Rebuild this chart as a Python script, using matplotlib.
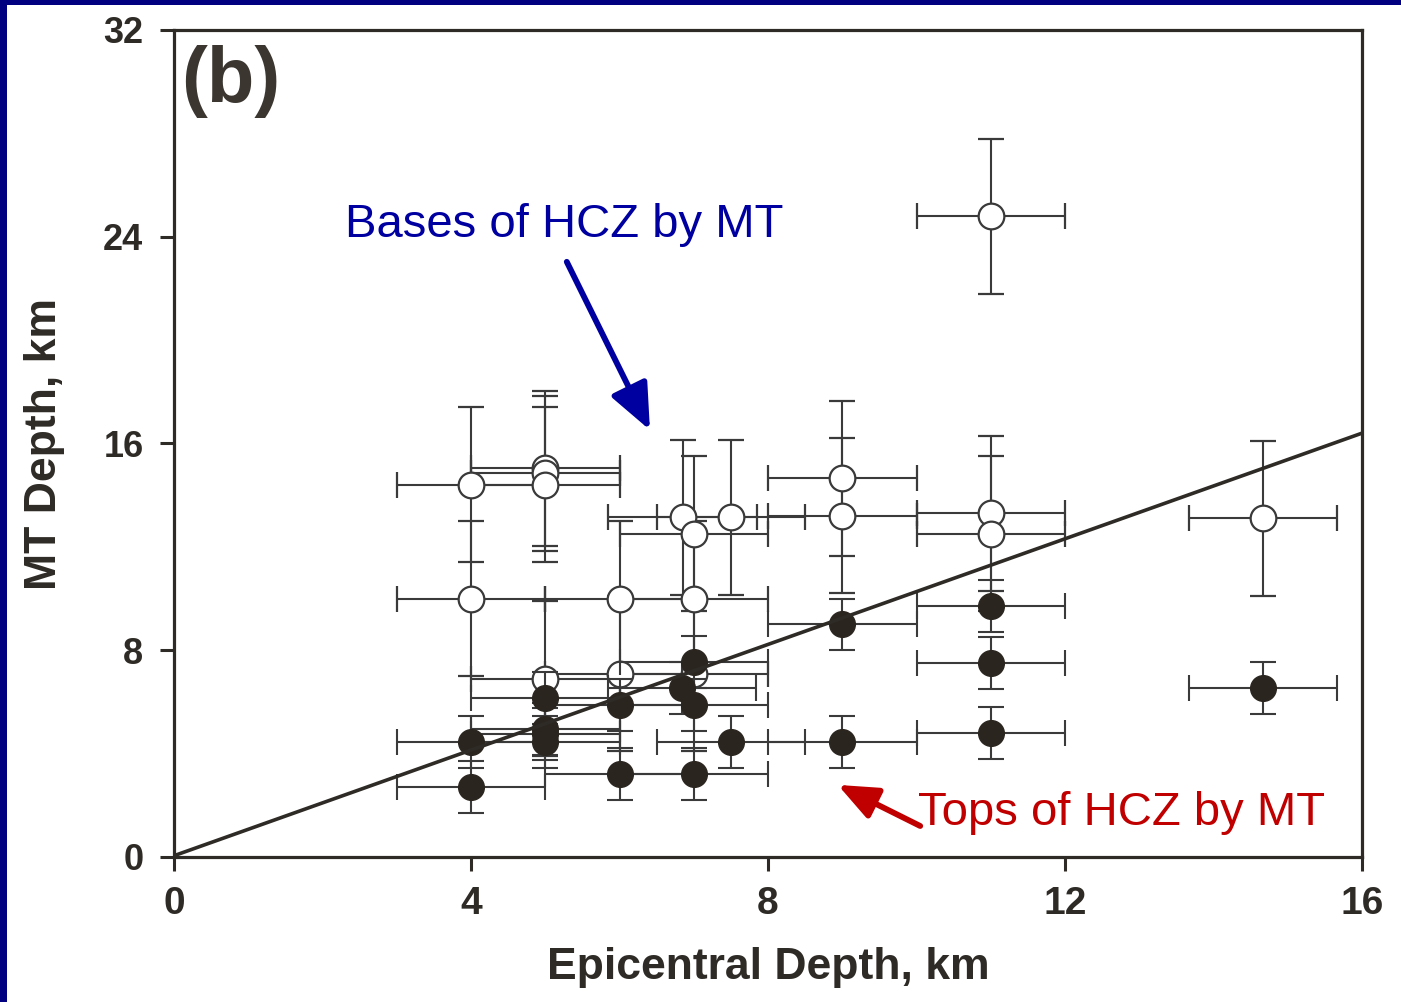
import numpy as np
import matplotlib
matplotlib.use('Agg')
import matplotlib.pyplot as plt
from matplotlib.patches import Rectangle

# Bases of HCZ by MT (open circles)
base_x = [11, 4, 5, 5, 5, 4, 6.85, 7, 7.5, 6, 7, 5, 6, 7, 9, 9, 11, 11, 14.67]
base_y = [24.8, 14.4, 15.05, 14.85, 14.4, 10.0, 13.15, 12.5, 13.15, 10.0, 10.0,
          6.9, 7.1, 7.1, 14.65, 13.2, 13.3, 12.5, 13.1]
base_xerr = [1] * len(base_x)
base_yerr = [3] * len(base_x)

# Tops of HCZ by MT (filled circles)
top_x = [14.67, 11, 11, 11, 9, 9, 7.5, 4, 4, 5, 5, 5, 5, 6, 6, 7, 7, 6.84, 7]
top_y = [6.55, 9.7, 7.5, 4.8, 9.0, 4.45, 4.45, 4.45, 2.7, 6.15, 4.95, 4.75, 4.45,
         5.88, 3.2, 3.2, 7.55, 6.54, 5.88]
top_xerr = [1] * len(top_x)
top_yerr = [1] * len(top_x)

# reference line
line_x = [0, 16]
line_y = [0.05, 16.4]

xticks = [0, 4, 8, 12, 16]
yticks = [0, 8, 16, 24, 32]

ink = '#2e2a25'
bar_col = '#3a3a3a'

fig = plt.figure(figsize=(14.01, 10.02), dpi=100, facecolor='white')
# navy slide border on the left and top
fig.patches.append(Rectangle((0, 0), 7 / 1401, 1, transform=fig.transFigure,
                             facecolor='#000080', edgecolor='none', zorder=-10))
fig.patches.append(Rectangle((0, 997 / 1002), 1, 5 / 1002, transform=fig.transFigure,
                             facecolor='#000080', edgecolor='none', zorder=-10))
ax = fig.add_axes([174 / 1401, 145 / 1002, 1188 / 1401, 827 / 1002])
ax.set_facecolor('white')

ax.errorbar(base_x, base_y, xerr=base_xerr, yerr=base_yerr, fmt='o', ms=18.5,
            mfc='white', mec=bar_col, mew=1.6, ecolor=bar_col, elinewidth=1.5,
            capsize=9.5, capthick=1.5, zorder=3)
ax.errorbar(top_x, top_y, xerr=top_xerr, yerr=top_yerr, fmt='o', ms=18.5,
            mfc='#2b251f', mec='#2b251f', ecolor=bar_col, elinewidth=1.5,
            capsize=9.5, capthick=1.5, zorder=4)
ax.plot(line_x, line_y, color=ink, lw=2.6, zorder=5, solid_capstyle='butt')

ax.set_xlim(0, 16)
ax.set_ylim(0, 32)
ax.set_xticks(xticks)
ax.set_yticks(yticks)
for s in ax.spines.values():
    s.set_linewidth(2.3)
    s.set_color(ink)
ax.tick_params(direction='out', length=10, width=2.2, color=ink, labelcolor=ink)
ax.tick_params(axis='x', labelsize=28, pad=11)
ax.tick_params(axis='y', labelsize=26, pad=12)
for lab in ax.get_xticklabels() + ax.get_yticklabels():
    lab.set_fontfamily('Liberation Sans')
    lab.set_fontweight('bold')

ax.set_xlabel('Epicentral Depth, km', fontsize=32, fontweight='bold',
              family='Liberation Sans', color=ink, va='center')
ax.xaxis.set_label_coords(0.5, (857 - 968) / 827)
ax.set_ylabel('MT Depth, km', fontsize=32, fontweight='bold',
              family='Liberation Sans', color=ink, va='center')
ax.yaxis.set_label_coords((45 - 174) / 1188, 0.5)

ax.text(0.1, 30.0, '(b)', fontsize=56, fontweight='bold', family='Liberation Sans',
        color='#3b3630', ha='left', va='center')

ax.text(2.3, 24.45, 'Bases of HCZ by MT', fontsize=34, family='Liberation Sans',
        color='#0000a0', ha='left', va='center', zorder=6)
ax.annotate('', xy=(6.41, 16.52), xytext=(5.29, 23.03),
            arrowprops=dict(arrowstyle='-|>,head_length=2.8,head_width=1.2',
                            color='#0000a0', lw=4.2, shrinkA=0, shrinkB=0), zorder=6)

ax.text(10.02, 1.7, 'Tops of HCZ by MT', fontsize=34, family='Liberation Sans',
        color='#c00000', ha='left', va='center', zorder=6)
ax.annotate('', xy=(8.94, 2.79), xytext=(10.05, 1.2),
            arrowprops=dict(arrowstyle='-|>,head_length=2.4,head_width=1.0',
                            color='#c00000', lw=4.2, shrinkA=0, shrinkB=0), zorder=6)

fig.savefig('out.png', dpi=100)
